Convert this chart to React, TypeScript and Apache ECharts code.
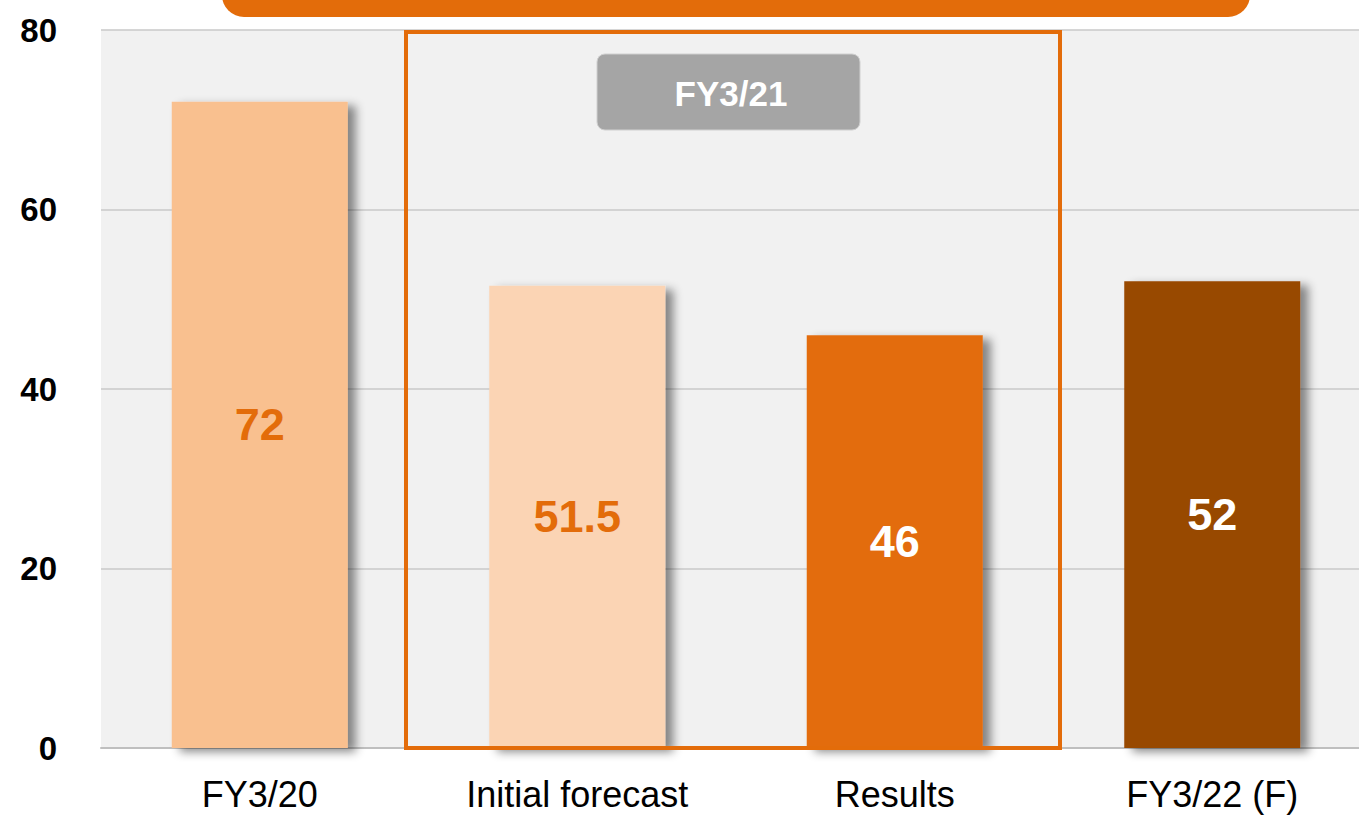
import React, { useEffect, useRef } from "react";
import * as echarts from "echarts";

const categories = ["FY3/20", "Initial forecast", "Results", "FY3/22 (F)"];
const values = [72, 51.5, 46, 52];
const barColors = ["#F9C08F", "#FBD4B4", "#E36C0A", "#984806"];
const labelColors = ["#E36C0A", "#E36C0A", "#FFFFFF", "#FFFFFF"];
const valueLabels = ["72", "51.5", "46", "52"];
const groupLabel = "FY3/21";

export default function App() {
  const ref = useRef<HTMLDivElement>(null);
  useEffect(() => {
    if (!ref.current) return;
    const chart = echarts.init(ref.current, null, { renderer: "svg" });
    const font = "'Liberation Sans', Arial, sans-serif";
    chart.setOption({
      animation: false,
      backgroundColor: "#ffffff",
      grid: {
        left: 101,
        top: 30,
        width: 1270,
        height: 718,
        outerBoundsMode: "none",
        containLabel: false,
        show: true,
        backgroundColor: "#F1F1F1",
        borderWidth: 0,
      },
      xAxis: {
        type: "category",
        data: categories,
        axisTick: { show: false },
        axisLine: { show: true, lineStyle: { color: "#BFBFBF", width: 2 } },
        axisLabel: {
          color: "#000000",
          fontSize: 36,
          lineHeight: 34,
          fontFamily: font,
          margin: 29,
        },
      },
      yAxis: {
        type: "value",
        min: 0,
        max: 80,
        interval: 20,
        axisLine: { show: false },
        axisTick: { show: false },
        splitLine: { lineStyle: { color: "#C8C8C8", width: 1.5 } },
        axisLabel: {
          color: "#000000",
          fontSize: 33,
          fontWeight: "bold",
          fontFamily: font,
          margin: 44,
        },
      },
      series: [
        {
          type: "bar",
          barWidth: 176,
          data: values.map((v, i) => ({
            value: v,
            itemStyle: {
              color: barColors[i],
              shadowColor: "rgba(0,0,0,0.45)",
              shadowBlur: 10,
              shadowOffsetX: 8,
              shadowOffsetY: 4,
            },
            label: {
              show: true,
              position: "inside",
              formatter: valueLabels[i],
              color: labelColors[i],
              fontSize: 45,
              fontWeight: "bold",
              fontFamily: font,
            },
          })),
        },
      ],
      graphic: [
        {
          type: "rect",
          shape: { x: 222, y: -40, width: 1028, height: 57, r: 22 },
          style: { fill: "#E36C0A" },
          z: 10,
        },
        {
          type: "rect",
          shape: { x: 406, y: 32, width: 654, height: 716 },
          style: { fill: "none", stroke: "#E36C0A", lineWidth: 4 },
          z: 10,
        },
        {
          type: "rect",
          shape: { x: 597, y: 54, width: 263, height: 76, r: 8 },
          style: { fill: "#A5A5A5", stroke: "#D0D0D0", lineWidth: 1 },
          z: 10,
        },
        {
          type: "text",
          x: 731,
          y: 93,
          style: {
            text: groupLabel,
            fill: "#FFFFFF",
            font: `bold 35px ${font}`,
            textAlign: "center",
            textVerticalAlign: "middle",
          },
          z: 11,
        },
      ],
    });
    return () => chart.dispose();
  }, []);
  return (
    <div
      ref={ref}
      style={{ position: "fixed", left: 0, top: 0, width: 1359, height: 815 }}
    />
  );
}
